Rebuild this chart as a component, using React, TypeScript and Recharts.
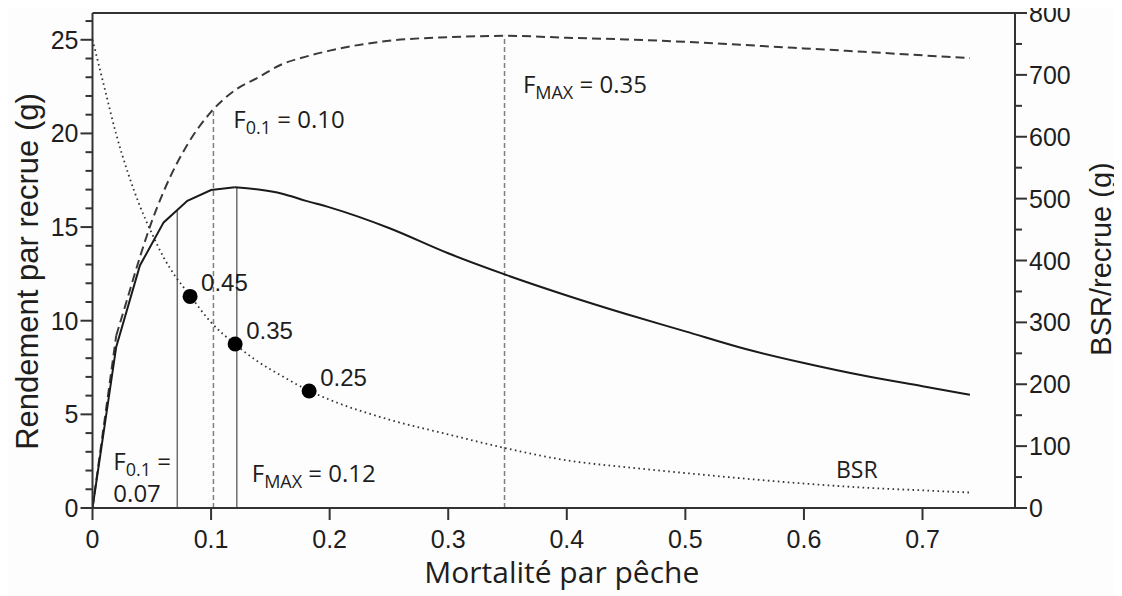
import React from 'react';
import { ComposedChart, Line, Scatter, XAxis, YAxis, ReferenceLine, Label } from 'recharts';

// Fishing mortality grid and series values
const solidF = [0, 0.02, 0.04, 0.06, 0.08, 0.10, 0.12, 0.14, 0.16, 0.18, 0.20, 0.25, 0.30, 0.35, 0.40, 0.45, 0.50, 0.55, 0.60, 0.65, 0.70, 0.74];
const solidYield = [0, 8.6, 12.95, 15.25, 16.4, 16.98, 17.12, 17.0, 16.78, 16.4, 16.05, 14.95, 13.6, 12.42, 11.35, 10.36, 9.43, 8.5, 7.74, 7.07, 6.5, 6.05];

const dashedF = [0, 0.02, 0.03, 0.04, 0.05, 0.06, 0.08, 0.10, 0.12, 0.14, 0.16, 0.18, 0.20, 0.25, 0.30, 0.35, 0.40, 0.45, 0.50, 0.55, 0.60, 0.65, 0.70, 0.74];
const dashedYield = [0, 9.2, 11.3, 13.4, 15.3, 16.9, 19.4, 21.15, 22.3, 23.0, 23.7, 24.1, 24.42, 24.95, 25.14, 25.21, 25.11, 25.02, 24.89, 24.72, 24.54, 24.36, 24.17, 24.02];

const bsrF = [0, 0.01, 0.02, 0.03, 0.04, 0.05, 0.06, 0.07, 0.08, 0.10, 0.12, 0.14, 0.16, 0.18, 0.20, 0.25, 0.30, 0.35, 0.40, 0.45, 0.50, 0.55, 0.60, 0.65, 0.70, 0.74];
const bsrValue = [757, 680, 604, 541, 488, 444, 405, 374, 349, 300, 265, 236, 213, 192, 175, 143, 119, 96, 77, 66, 56.5, 47.5, 39.5, 33, 28.5, 25];

const markerF = [0.0823, 0.1203, 0.1827];
const markerBSR = [342, 265, 189];
const markerLabels = ['0.45', '0.35', '0.25'];

const solidRefF = [0.0715, 0.1217];
const solidRefTop = [15.9, 17.12];
const dashedRefF = [0.102, 0.3475];
const dashedRefTop = [21.3, 25.21];

const annotId = ['f01dashed', 'fmaxdashed', 'f01solid', 'fmaxsolid', 'bsr'];
const annotF = [0.1188, 0.363, 0.0176, 0.1343, 0.627];
const annotY = [20.28, 22.15, 2.03, 1.4, 1.62];

const xTicks = [0, 0.1, 0.2, 0.3, 0.4, 0.5, 0.6, 0.7];
const leftTicks = Array.from({ length: 27 }, (_, i) => i);
const rightTicks = Array.from({ length: 17 }, (_, i) => i * 50);

const X_MAX = 0.778;
const LEFT_MAX = 26.43;
const RIGHT_MAX = 800;

// the yield curves are drawn as straight segments near the origin, smooth beyond
const SOLID_SPLIT = 6;
const DASHED_SPLIT = 1;

const solidData = solidF.map((f, i) => ({ f, v: solidYield[i] }));
const dashedData = dashedF.map((f, i) => ({ f, v: dashedYield[i] }));
const bsrData = bsrF.map((f, i) => ({ f, v: bsrValue[i] }));
const markerData = markerF.map((f, i) => ({ f, v: markerBSR[i], label: markerLabels[i] }));
const annotData = annotF.map((f, i) => ({ f, v: annotY[i], id: annotId[i] }));

const TICK_FONT = '"Liberation Sans", Arial, Helvetica, sans-serif';
const ANNOT_FONT = '"Open Sans", "Noto Sans", sans-serif';
const AXIS_COLOR = '#333';
const TEXT_COLOR = '#1e1e1e';

const LeftTick = (props: any) => {
  const { x, y, payload } = props;
  const v = payload.value;
  const major = v % 5 === 0;
  return (
    <g>
      <line x1={x - (major ? 12 : 7)} x2={x} y1={y} y2={y} stroke={AXIS_COLOR} strokeWidth={2} />
      {major && (
        <text x={x - 14} y={y} dy="0.36em" textAnchor="end" fontFamily={TICK_FONT} fontSize={25} fill={TEXT_COLOR}>
          {v}
        </text>
      )}
    </g>
  );
};

const RightTick = (props: any) => {
  const { x, y, payload } = props;
  const v = payload.value;
  const major = v % 100 === 0;
  return (
    <g>
      <line x1={x} x2={x + (major ? 12 : 7)} y1={y} y2={y} stroke={AXIS_COLOR} strokeWidth={2} />
      {major && (
        <text x={x + 14} y={y} dy="0.36em" textAnchor="start" fontFamily={TICK_FONT} fontSize={25} fill={TEXT_COLOR}>
          {v}
        </text>
      )}
    </g>
  );
};

const BottomTick = (props: any) => {
  const { x, y, payload } = props;
  return (
    <g>
      <line x1={x} x2={x} y1={y} y2={y + 12} stroke={AXIS_COLOR} strokeWidth={2} />
      <text x={x} y={y + 40} textAnchor="middle" fontFamily={TICK_FONT} fontSize={25} fill={TEXT_COLOR}>
        {String(payload.value)}
      </text>
    </g>
  );
};

const MarkerShape = (props: any) => {
  const { cx, cy, payload } = props;
  return (
    <g>
      <circle cx={cx} cy={cy} r={7.5} fill="#000" />
      <text x={cx + 11} y={cy - 5} fontFamily={TICK_FONT} fontSize={24} fill={TEXT_COLOR}>
        {payload.label}
      </text>
    </g>
  );
};

const AnnotShape = (props: any) => {
  const { cx, cy, payload } = props;
  const common = { fontFamily: ANNOT_FONT, fontSize: 24, fill: TEXT_COLOR } as any;
  const sub = (s: string) => (
    <tspan fontSize={18} dy={6}>{s}</tspan>
  );
  switch (payload.id) {
    case 'f01dashed':
      return (
        <text x={cx} y={cy} {...common}>
          F{sub('0.1')}<tspan dy={-6}>{' = 0.10'}</tspan>
        </text>
      );
    case 'fmaxdashed':
      return (
        <text x={cx} y={cy} {...common}>
          F{sub('MAX')}<tspan dy={-6}>{' = 0.35'}</tspan>
        </text>
      );
    case 'f01solid':
      return (
        <g>
          <text x={cx} y={cy} {...common}>
            F{sub('0.1')}<tspan dy={-6}>{' ='}</tspan>
          </text>
          <text x={cx} y={cy + 32} {...common}>0.07</text>
        </g>
      );
    case 'fmaxsolid':
      return (
        <text x={cx} y={cy} {...common}>
          F{sub('MAX')}<tspan dy={-6}>{' = 0.12'}</tspan>
        </text>
      );
    case 'bsr':
      return (
        <text x={cx} y={cy} {...common} fontSize={23}>BSR</text>
      );
    default:
      return null;
  }
};

const LeftTitle = (props: any) => {
  const vb = props.viewBox || { x: 0, y: 0, width: 0, height: 0 };
  const cx = vb.x + 27;
  const cy = vb.y + vb.height / 2 + 11;
  return (
    <text x={cx} y={cy} transform={`rotate(-90 ${cx} ${cy})`} textAnchor="middle" dominantBaseline="central"
      fontFamily={TICK_FONT} fontSize={31} fill={TEXT_COLOR}>
      Rendement par recrue (g)
    </text>
  );
};

const RightTitle = (props: any) => {
  const vb = props.viewBox || { x: 0, y: 0, width: 0, height: 0 };
  const cx = vb.x + 86;
  const cy = vb.y + 246;
  return (
    <text x={cx} y={cy} transform={`rotate(-90 ${cx} ${cy})`} textAnchor="middle" dominantBaseline="central"
      fontFamily={TICK_FONT} fontSize={29} fill={TEXT_COLOR}>
      BSR/recrue (g)
    </text>
  );
};

const BottomTitle = (props: any) => {
  const vb = props.viewBox || { x: 0, y: 0, width: 0, height: 0 };
  return (
    <text x={vb.x + vb.width / 2 + 8} y={vb.y + 75} textAnchor="middle"
      fontFamily={ANNOT_FONT} fontSize={30} fill={TEXT_COLOR}>
      Mortalité par pêche
    </text>
  );
};

export default function App() {
  return (
    <div style={{ width: 1122, height: 596, margin: '-8px 0 0 -8px', background: '#fdfdfd' }}>
      <ComposedChart width={1122} height={596} margin={{ top: 13, right: 0, bottom: 0, left: 0 }}>
        <XAxis
          type="number"
          dataKey="f"
          domain={[0, X_MAX]}
          ticks={xTicks}
          interval={0}
          height={88}
          tickSize={0}
          tickMargin={0}
          tickLine={false}
          axisLine={{ stroke: AXIS_COLOR, strokeWidth: 2 }}
          tick={<BottomTick />}
          allowDataOverflow
        >
          <Label content={<BottomTitle />} />
        </XAxis>
        <YAxis
          yAxisId="left"
          orientation="left"
          type="number"
          dataKey="v"
          domain={[0, LEFT_MAX]}
          ticks={leftTicks}
          interval={0}
          width={92.5}
          tickSize={0}
          tickMargin={0}
          tickLine={false}
          axisLine={{ stroke: AXIS_COLOR, strokeWidth: 2 }}
          tick={<LeftTick />}
          allowDataOverflow
        >
          <Label content={<LeftTitle />} />
        </YAxis>
        <YAxis
          yAxisId="right"
          orientation="right"
          type="number"
          dataKey="v"
          domain={[0, RIGHT_MAX]}
          ticks={rightTicks}
          interval={0}
          width={107}
          tickSize={0}
          tickMargin={0}
          tickLine={false}
          axisLine={{ stroke: AXIS_COLOR, strokeWidth: 2 }}
          tick={<RightTick />}
          allowDataOverflow
        >
          <Label content={<RightTitle />} />
        </YAxis>

        <ReferenceLine yAxisId="left" y={LEFT_MAX} stroke={AXIS_COLOR} strokeWidth={2} ifOverflow="extendDomain" />

        {solidRefF.map((f, i) => (
          <ReferenceLine key={`s${i}`} yAxisId="left" segment={[{ x: f, y: 0 }, { x: f, y: solidRefTop[i] }]}
            stroke="#6e6e6e" strokeWidth={1.5} />
        ))}
        {dashedRefF.map((f, i) => (
          <ReferenceLine key={`d${i}`} yAxisId="left" segment={[{ x: f, y: 0 }, { x: f, y: dashedRefTop[i] }]}
            stroke="#808080" strokeWidth={1.5} strokeDasharray="5 3" />
        ))}

        <Line yAxisId="right" data={bsrData} dataKey="v" type="monotone" stroke="#333" strokeWidth={1.8}
          strokeDasharray="1.6 3.4" dot={false} activeDot={false} isAnimationActive={false} />
        <Line yAxisId="left" data={dashedData.slice(0, DASHED_SPLIT + 1)} dataKey="v" type="linear" stroke="#3a3a3a" strokeWidth={2}
          strokeDasharray="9 5" dot={false} activeDot={false} isAnimationActive={false} />
        <Line yAxisId="left" data={dashedData.slice(DASHED_SPLIT)} dataKey="v" type="monotone" stroke="#3a3a3a" strokeWidth={2}
          strokeDasharray="9 5" dot={false} activeDot={false} isAnimationActive={false} />
        <Line yAxisId="left" data={solidData.slice(0, SOLID_SPLIT + 1)} dataKey="v" type="linear" stroke="#1a1a1a" strokeWidth={2}
          dot={false} activeDot={false} isAnimationActive={false} />
        <Line yAxisId="left" data={solidData.slice(SOLID_SPLIT)} dataKey="v" type="monotone" stroke="#1a1a1a" strokeWidth={2}
          dot={false} activeDot={false} isAnimationActive={false} />

        <Scatter yAxisId="right" data={markerData} dataKey="v" shape={<MarkerShape />} isAnimationActive={false} />
        <Scatter yAxisId="left" data={annotData} dataKey="v" shape={<AnnotShape />} isAnimationActive={false} />
      </ComposedChart>
    </div>
  );
}
